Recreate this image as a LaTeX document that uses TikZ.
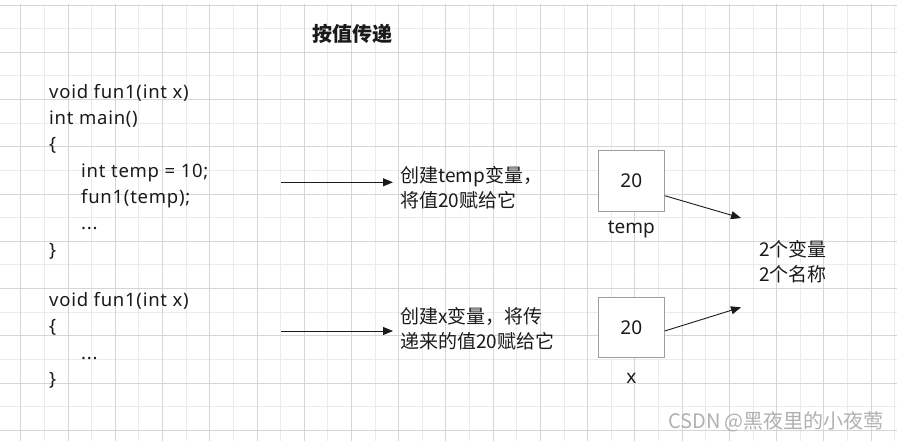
\documentclass[tikz,border=0pt]{standalone}
\usepackage{fontspec}
\setmainfont{Noto Sans CJK SC}
\newfontfamily\codefont{Noto Sans}
\newfontfamily\codewide[LetterSpace=4]{Noto Sans}
\usetikzlibrary{positioning, arrows.meta}
\definecolor{gridMajor}{HTML}{D6D6D6}
\definecolor{gridMinor}{HTML}{EBEBEB}
\definecolor{boxGray}{HTML}{9E9E9E}
\definecolor{inkDark}{HTML}{1A1A1A}
\definecolor{markGray}{HTML}{B0B0B0}

\begin{document}
\begin{tikzpicture}[
  x=1pt, y=-1pt,
  codetext/.style={
    anchor=north west,
    inner sep=0pt,
    align=left,
    font=\codewide\fontsize{18.5}{26.3}\selectfont,
    text=inkDark
  },
  note/.style={
    anchor=west,
    inner ysep=0pt,
    inner xsep=7pt,
    align=left,
    font=\fontsize{19}{25}\selectfont,
    text=inkDark
  },
  valbox/.style={
    draw=boxGray,
    fill=white,
    line width=0.8pt,
    minimum width=66pt,
    minimum height=61pt,
    font=\codefont\fontsize{19}{23}\selectfont,
    text=inkDark
  },
  varname/.style={
    inner sep=0pt,
    font=\codefont\fontsize{19}{23}\selectfont,
    text=inkDark
  },
  conn/.style={
    draw=inkDark,
    line width=0.9pt,
    -{Triangle[length=10pt, width=8pt]}
  }
]
\useasboundingbox (0,0) rectangle (897,441);

\begin{scope}
  \clip (0,5) rectangle (897,441);
  \foreach \k in {0,...,38} {
    \draw[gridMinor, line width=0.8pt] (-2.9+23.62*\k, 0) -- ++(0,441);
  }
  \foreach \k in {0,...,18} {
    \draw[gridMinor, line width=0.8pt] (0, 5+23.62*\k) -- ++(897,0);
  }
  \foreach \k in {0,...,18} {
    \draw[gridMajor, line width=0.8pt] (20.7+47.24*\k, 0) -- ++(0,441);
  }
  \foreach \k in {0,...,9} {
    \draw[gridMajor, line width=0.8pt] (0, 5+47.24*\k) -- ++(897,0);
  }
\end{scope}

\node[font=\bfseries\fontsize{20}{24}\selectfont, text=inkDark] (title) at (352,34) {按值传递};

\node[codetext] (code1) at (49,84) {
  void fun1(int x)\\
  int main()\\
  \{\\
  \hspace*{32pt}int temp = 10;\\
  \hspace*{32pt}fun1(temp);\\
  \hspace*{32pt}...\\
  \}
};

\node[codetext, below=33pt of code1.south west, anchor=north west] (code2) {
  void fun1(int x)\\
  \{\\
  \hspace*{32pt}...\\
  \}
};

\coordinate (from1) at (281,182.3);
\coordinate (from2) at (281,331);

\node[note] (desc1) at (393,187.5) {创建temp变量，\\将值20赋给它};
\node[note] (desc2) at (393,329.2) {创建x变量，将传\\递来的值20赋给它};

\draw[conn] (from1) -- (from1 -| desc1.west);
\draw[conn] (from2) -- (from2 -| desc2.west);

\node[valbox] (box1) at (631.3,181) {20};
\node[valbox, minimum height=60pt] (box2) at (631.3,327.5) {20};

\node[varname, below=9pt of box1] (name1) {temp};
\node[varname, below=15pt of box2] (name2) {x};

\node[note, inner xsep=0pt] (sum) at (759,261.8) {2个变量\\2个名称};

\coordinate (tip1) at (741,218);
\coordinate (tip2) at (741,307.3);

\draw[conn] ([yshift=-14.7pt]box1.east) -- (tip1);
\draw[conn] ([yshift=-3.5pt]box2.east) -- (tip2);

\node[text=markGray, font=\fontsize{20}{24}\selectfont] (mark) at (776,421.7) {CSDN @黑夜里的小夜莺};

\end{tikzpicture}
\end{document}
